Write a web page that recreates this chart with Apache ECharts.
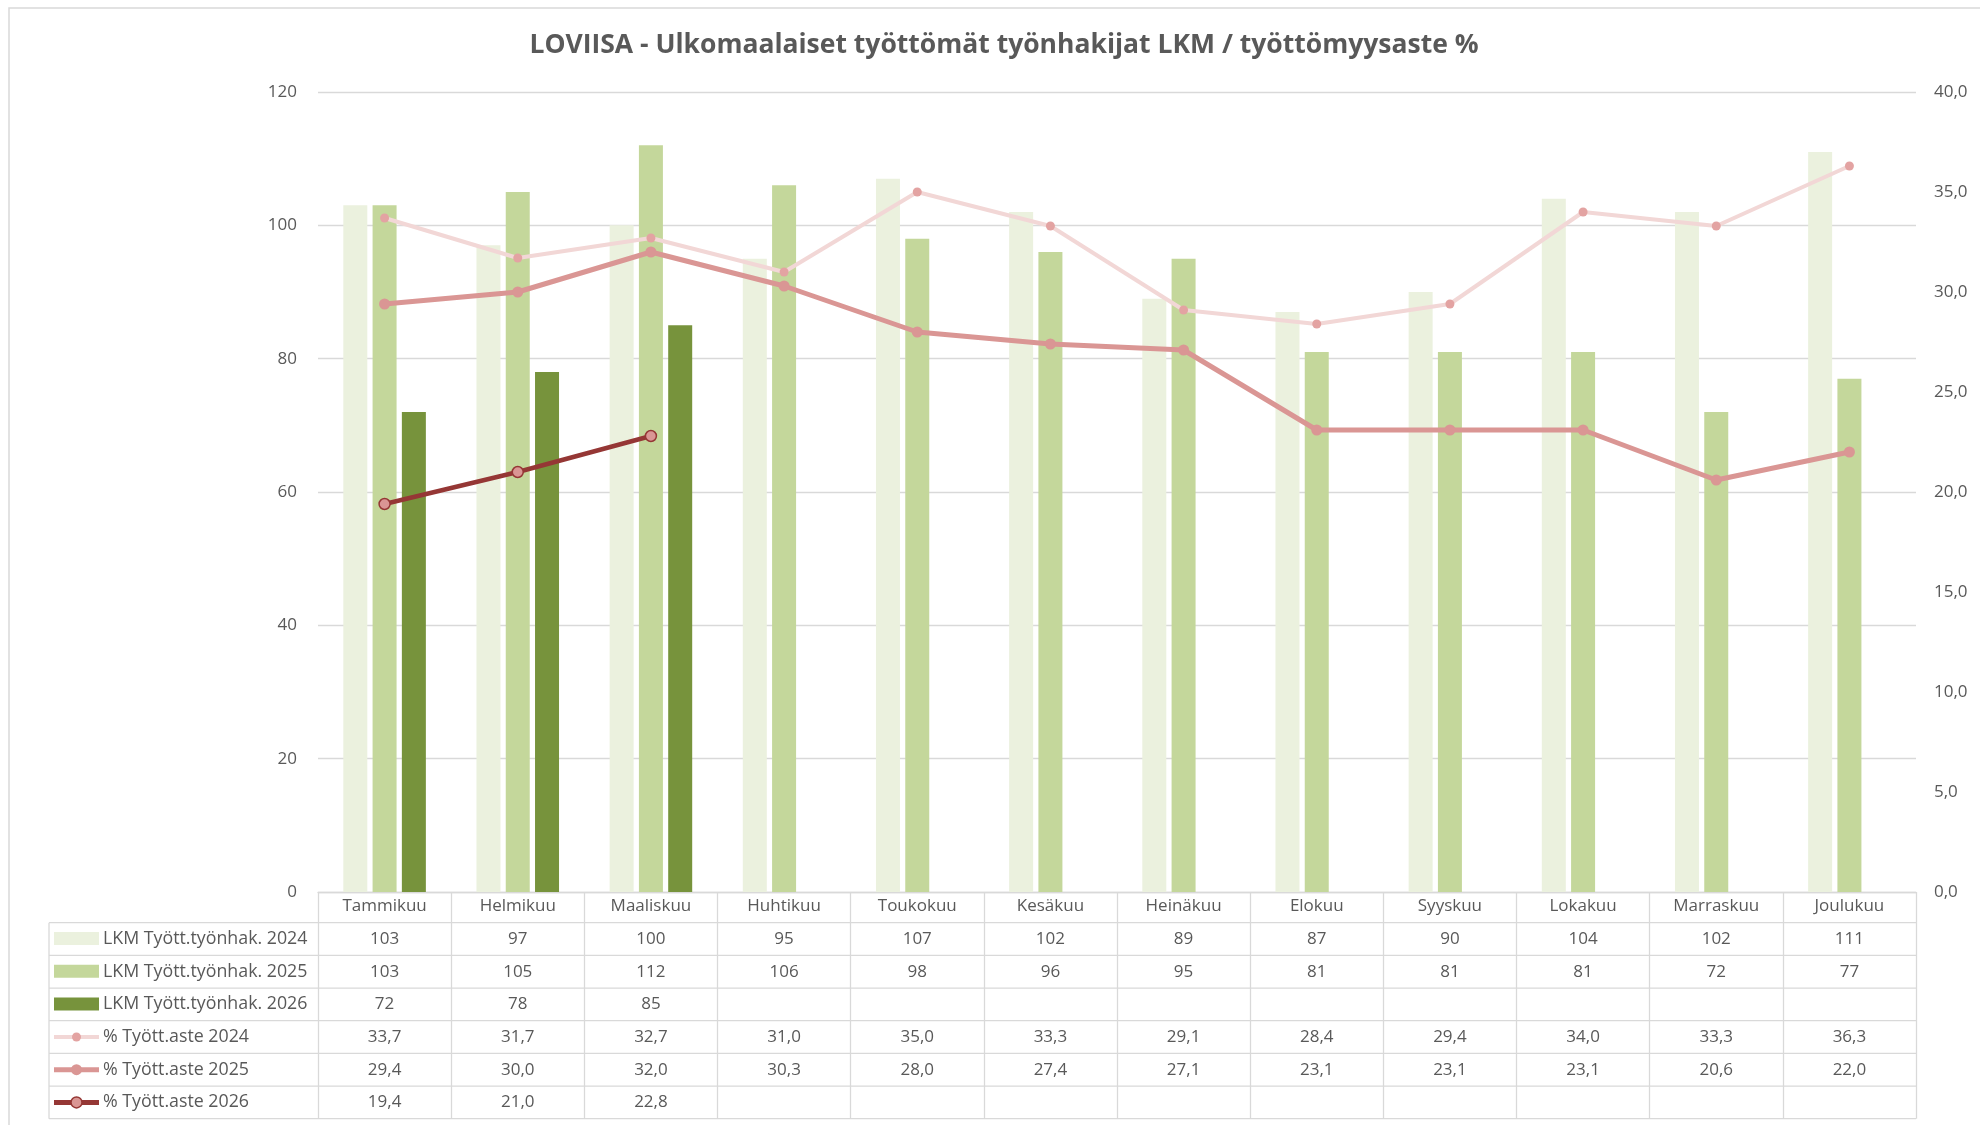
<!DOCTYPE html>
<html lang="fi">
<head>
    <meta charset="UTF-8">
    <title>LOVIISA</title>
    <script src="https://cdn.jsdelivr.net/npm/echarts@6/dist/echarts.min.js"></script>
    <style>
        html, body { margin: 0; padding: 0; background: #fff; }
        #container { width: 1980px; height: 1125px; }
    </style>
</head>
<body>
<div id="container"></div>
<script>
    var months = ['Tammikuu', 'Helmikuu', 'Maaliskuu', 'Huhtikuu', 'Toukokuu', 'Kesäkuu',
        'Heinäkuu', 'Elokuu', 'Syyskuu', 'Lokakuu', 'Marraskuu', 'Joulukuu'];
    var lkm2024 = [103, 97, 100, 95, 107, 102, 89, 87, 90, 104, 102, 111];
    var lkm2025 = [103, 105, 112, 106, 98, 96, 95, 81, 81, 81, 72, 77];
    var lkm2026 = [72, 78, 85, null, null, null, null, null, null, null, null, null];
    var aste2024 = [33.7, 31.7, 32.7, 31.0, 35.0, 33.3, 29.1, 28.4, 29.4, 34.0, 33.3, 36.3];
    var aste2025 = [29.4, 30.0, 32.0, 30.3, 28.0, 27.4, 27.1, 23.1, 23.1, 23.1, 20.6, 22.0];
    var aste2026 = [19.4, 21.0, 22.8, null, null, null, null, null, null, null, null, null];
    var seriesNames = ['LKM Tyött.työnhak. 2024', 'LKM Tyött.työnhak. 2025', 'LKM Tyött.työnhak. 2026',
        '% Tyött.aste 2024', '% Tyött.aste 2025', '% Tyött.aste 2026'];

    var FONT = '"Open Sans", "Noto Sans", sans-serif';
    var TXT = '#595959';
    var LINE = '#d9d9d9';

    // plot area
    var gLeft = 318, gRight = 1916, gTop = 92, gBottom = 892;
    var colW = (gRight - gLeft) / months.length;
    var headH = 30.7, rowH = 32.67;
    var tabLeft = 49;
    var rowsTop = gBottom + headH;
    var tabBottom = rowsTop + rowH * 6;

    function pct(v) { return v == null ? '' : v.toFixed(1).replace('.', ','); }
    function num(v) { return v == null ? '' : String(v); }

    var tableRows = [
        {data: lkm2024, fmt: num},
        {data: lkm2025, fmt: num},
        {data: lkm2026, fmt: num},
        {data: aste2024, fmt: pct},
        {data: aste2025, fmt: pct},
        {data: aste2026, fmt: pct}
    ];

    var graphics = [];
    // chart area frame (only top/left visible)
    graphics.push({type: 'rect', shape: {x: 9, y: 8, width: 2100, height: 1300},
        style: {fill: null, stroke: '#d9d9d9', lineWidth: 1.5}, silent: true});
    graphics.push({type: 'text', x: 1004, y: 45, style: {
        text: 'LOVIISA - Ulkomaalaiset työttömät työnhakijat LKM / työttömyysaste %',
        fill: TXT, font: 'bold 26.5px ' + FONT, textAlign: 'center', textVerticalAlign: 'middle'}});

    // table grid lines
    for (var r = 0; r <= 6; r++) {
        var y = rowsTop + r * rowH;
        graphics.push({type: 'line', shape: {x1: tabLeft, y1: y, x2: gRight, y2: y},
            style: {stroke: LINE, lineWidth: 1.3}, silent: true});
    }
    graphics.push({type: 'line', shape: {x1: tabLeft, y1: rowsTop, x2: tabLeft, y2: tabBottom},
        style: {stroke: LINE, lineWidth: 1.3}, silent: true});

    // legend keys + values
    var barCols = ['#ebf1de', '#c4d79b', '#77933c'];
    tableRows.forEach(function (row, r) {
        var cy = rowsTop + r * rowH + rowH / 2;
        if (r < 3) {
            graphics.push({type: 'rect', shape: {x: 54, y: cy - 7, width: 45, height: 13},
                style: {fill: barCols[r]}});
        } else if (r === 3) {
            graphics.push({type: 'line', shape: {x1: 54, y1: cy, x2: 99, y2: cy},
                style: {stroke: '#f2d7d6', lineWidth: 4}});
            graphics.push({type: 'circle', shape: {cx: 76.5, cy: cy, r: 4.5},
                style: {fill: '#e3a3a2'}});
        } else if (r === 4) {
            graphics.push({type: 'line', shape: {x1: 54, y1: cy, x2: 99, y2: cy},
                style: {stroke: '#da9694', lineWidth: 5}});
            graphics.push({type: 'circle', shape: {cx: 76.5, cy: cy, r: 5.5},
                style: {fill: '#da9694'}});
        } else {
            graphics.push({type: 'line', shape: {x1: 54, y1: cy, x2: 99, y2: cy},
                style: {stroke: '#953735', lineWidth: 5}});
            graphics.push({type: 'circle', shape: {cx: 76.5, cy: cy, r: 5.5},
                style: {fill: '#da9694', stroke: '#953735', lineWidth: 1.5}});
        }
        graphics.push({type: 'text', x: 103, y: cy, style: {
            text: seriesNames[r], fill: TXT, font: '17.8px ' + FONT, textVerticalAlign: 'middle'}});
        row.data.forEach(function (v, i) {
            graphics.push({type: 'text', x: gLeft + (i + 0.5) * colW, y: cy, style: {
                text: row.fmt(v), fill: TXT, font: '17px ' + FONT,
                textAlign: 'center', textVerticalAlign: 'middle'}});
        });
    });

    var options = {
        animation: false,
        backgroundColor: '#fff',
        textStyle: {fontFamily: FONT},
        grid: {
            left: gLeft, right: 1980 - gRight, top: gTop, bottom: 1125 - gBottom,
            outerBoundsMode: 'none'
        },
        xAxis: {
            type: 'category',
            data: months,
            axisLine: {lineStyle: {color: LINE, width: 1.3}},
            axisTick: {show: true, length: tabBottom - gBottom, lineStyle: {color: LINE, width: 1.3}},
            axisLabel: {color: TXT, fontSize: 17, margin: 6, interval: 0}
        },
        yAxis: [
            {
                type: 'value', min: 0, max: 120, interval: 20,
                axisLabel: {color: TXT, fontSize: 17, margin: 21},
                splitLine: {lineStyle: {color: LINE, width: 1.3}},
                axisLine: {show: false}, axisTick: {show: false}
            },
            {
                type: 'value', min: 0, max: 40, interval: 5,
                axisLabel: {color: TXT, fontSize: 17, margin: 18,
                    formatter: function (v) { return v.toFixed(1).replace('.', ','); }},
                splitLine: {show: false},
                axisLine: {show: false}, axisTick: {show: false}
            }
        ],
        series: [
            {name: seriesNames[0], type: 'bar', data: lkm2024, barWidth: 24, barGap: '22%',
                itemStyle: {color: barCols[0]}},
            {name: seriesNames[1], type: 'bar', data: lkm2025, barWidth: 24, barGap: '22%',
                itemStyle: {color: barCols[1]}},
            {name: seriesNames[2], type: 'bar', data: lkm2026, barWidth: 24, barGap: '22%',
                itemStyle: {color: barCols[2]}},
            {name: seriesNames[3], type: 'line', yAxisIndex: 1, data: aste2024, z: 3,
                symbol: 'circle', symbolSize: 9, showAllSymbol: true,
                lineStyle: {color: '#f2d7d6', width: 4},
                itemStyle: {color: '#e3a3a2'}},
            {name: seriesNames[4], type: 'line', yAxisIndex: 1, data: aste2025, z: 4,
                symbol: 'circle', symbolSize: 11, showAllSymbol: true,
                lineStyle: {color: '#da9694', width: 5},
                itemStyle: {color: '#da9694'}},
            {name: seriesNames[5], type: 'line', yAxisIndex: 1, data: aste2026, z: 5,
                symbol: 'circle', symbolSize: 11, showAllSymbol: true,
                lineStyle: {color: '#953735', width: 4.5},
                itemStyle: {color: '#da9694', borderColor: '#953735', borderWidth: 1.5}}
        ],
        graphic: graphics
    };

    var myChart = echarts.init(document.getElementById('container'));
    myChart.setOption(options);
</script>
</body>
</html>
